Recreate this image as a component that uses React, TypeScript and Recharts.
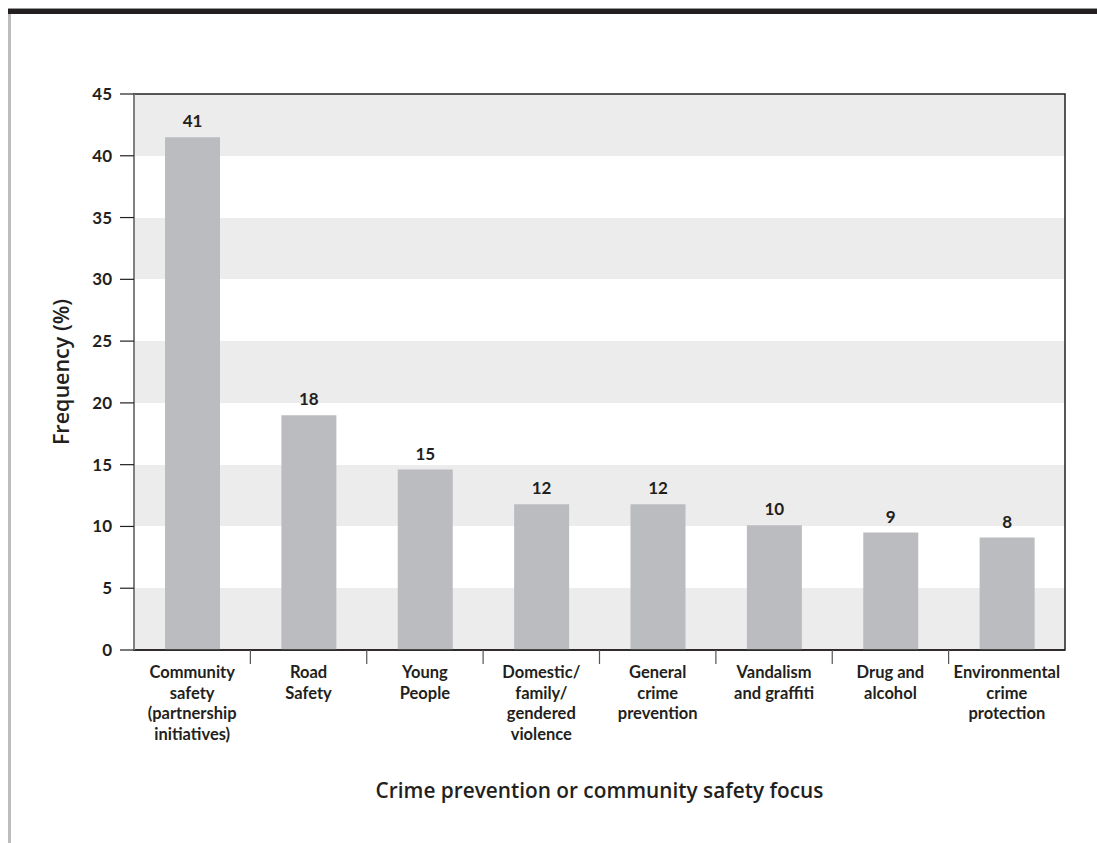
import React from 'react';
import { BarChart, Bar, XAxis, YAxis, CartesianGrid, LabelList, Label, ReferenceArea } from 'recharts';

const CATEGORIES = [
    'Community\nsafety\n(partnership\ninitiatives)',
    'Road\nSafety',
    'Young\nPeople',
    'Domestic/\nfamily/\ngendered\nviolence',
    'General\ncrime\nprevention',
    'Vandalism\nand graffiti',
    'Drug and\nalcohol',
    'Environmental\ncrime\nprotection',
];

// bar heights as drawn, and the printed value labels
const FREQUENCY = [41.5, 19, 14.6, 11.8, 11.8, 10.1, 9.5, 9.1];
const VALUE_LABELS = ['41', '18', '15', '12', '12', '10', '9', '8'];

const Y_TICKS = [0, 5, 10, 15, 20, 25, 30, 35, 40, 45];

const FONT = 'Lato, "Open Sans", sans-serif';
const TITLE_FONT = '"Open Sans", Lato, sans-serif';
const INK = '#231f20';

const data = CATEGORIES.map((name, i) => ({
    name,
    value: FREQUENCY[i],
    label: VALUE_LABELS[i],
}));

const CategoryTick = (props: any) => {
    const { x, y, payload, index } = props;
    const lines = String(payload.value).split('\n');
    const half = payload.offset || 0;
    return (
        <g>
            {index < CATEGORIES.length - 1 && (
                <line x1={x + half} x2={x + half} y1={y - 8} y2={y + 6} stroke="#555" strokeWidth={1.2} />
            )}
            <text x={x} y={y + 20} textAnchor="middle" fill={INK} fontFamily={FONT} fontWeight={700} fontSize={16.5}>
                {lines.map((line, i) => (
                    <tspan key={i} x={x} dy={i === 0 ? 0 : 20.5}>
                        {line}
                    </tspan>
                ))}
            </text>
        </g>
    );
};

export default function App() {
    return (
        <div style={{ position: 'absolute', left: 0, top: 0, width: 1097, height: 843, background: '#fff' }}>
            <div style={{ position: 'absolute', left: 8, top: 8, width: 1089, height: 1, background: '#999' }} />
            <div style={{ position: 'absolute', left: 8, top: 9, width: 1089, height: 5, background: INK }} />
            <div style={{ position: 'absolute', left: 8, top: 14, width: 3, height: 829, background: '#bdbdbf' }} />
            <div style={{ position: 'absolute', left: 0, top: 0 }}>
                <BarChart
                    width={1097}
                    height={843}
                    data={data}
                    margin={{ top: 94, right: 32, bottom: 0, left: 0 }}
                >
                    <CartesianGrid
                        vertical={false}
                        horizontal
                        stroke="none"
                        horizontalFill={['#ececec', '#ffffff']}
                        fillOpacity={1}
                    />
                    <ReferenceArea y1={0} y2={45} fill="none" stroke={INK} strokeWidth={1.5} ifOverflow="visible" />
                    <XAxis
                        dataKey="name"
                        interval={0}
                        height={193}
                        axisLine={{ stroke: INK, strokeWidth: 1.5 }}
                        tickLine={false}
                        tick={<CategoryTick />}
                    >
                        <Label
                            value="Crime prevention or community safety focus"
                            position="insideBottom"
                            offset={45}
                            fill={INK}
                            fontFamily={TITLE_FONT}
                            fontWeight={600}
                            fontSize={20.8}
                        />
                    </XAxis>
                    <YAxis
                        domain={[0, 45]}
                        ticks={Y_TICKS}
                        width={134}
                        tickSize={14}
                        tickMargin={8}
                        axisLine={{ stroke: '#808080', strokeWidth: 2 }}
                        tickLine={{ stroke: INK, strokeWidth: 1.2 }}
                        tick={{ fill: INK, fontFamily: FONT, fontWeight: 700, fontSize: 17 }}
                    >
                        <Label
                            value="Frequency (%)"
                            angle={-90}
                            position="insideLeft"
                            offset={61}
                            style={{ textAnchor: 'middle' }}
                            fill={INK}
                            fontFamily={TITLE_FONT}
                            fontWeight={600}
                            fontSize={21.5}
                        />
                    </YAxis>
                    <Bar dataKey="value" fill="#bbbcc0" barSize={55} isAnimationActive={false}>
                        <LabelList
                            dataKey="label"
                            position="top"
                            offset={10}
                            fill={INK}
                            fontFamily={FONT}
                            fontWeight={700}
                            fontSize={17}
                        />
                    </Bar>
                </BarChart>
            </div>
        </div>
    );
}
